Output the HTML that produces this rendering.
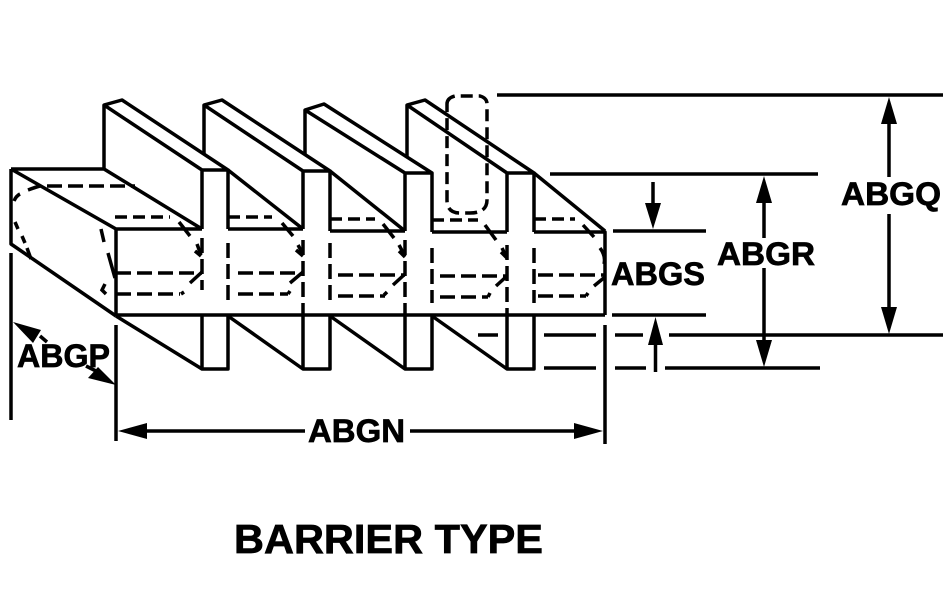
<!DOCTYPE html>
<html><head><meta charset="utf-8"><style>
html,body{margin:0;padding:0;background:#fff;width:950px;height:602px;overflow:hidden}
svg{display:block}
text{font-family:"Liberation Sans",Arial,sans-serif;font-weight:bold;fill:#000;stroke:#000;stroke-width:.7px}
</style></head><body>
<svg width="950" height="602" viewBox="0 0 950 602" xmlns="http://www.w3.org/2000/svg">
<rect width="950" height="602" fill="#fff"/>
<g fill="none" stroke="#000" stroke-width="3.5" stroke-linejoin="round">
<!-- block left end -->
<path d="M11 169H104M11 169V244L116 316M11 169L116 229H202M104 169L202 229M11 253V420"/>
<path d="M116 229V316M116 325V441"/>
<!-- fins -->
<path d="M104 169V105L122 100L228 170M104 105L202 170H228V229M202 170V229"/>
<path d="M204 154V105L222 100L330 171M204 105L303 171H330V231M303 171V229"/>
<path d="M305 155V110L324 104L432 173M305 110L405 173H432V232M405 173V231"/>
<path d="M407 156V105L425 100L534 173M407 105L507 173H534V232M507 173V232"/>
<!-- sloped faces between fins -->
<path d="M228 170L303 229M330 171L405 231M534 173L605 231"/>
<path d="M228 229H303M330 231H405M432 232H507M534 232H605V315"/>
<!-- base -->
<path d="M116 315H605M605 325V444"/>
<path d="M116 316L202 369H228V315M202 315V369"/>
<path d="M228 316L303 369H330V315M303 315V369"/>
<path d="M330 316L405 369H432V315M405 315V369"/>
<path d="M432 316L507 369H534V315M507 315V369"/>
<!-- dimension lines -->
<path d="M497 95H943M550 174H818M613 231H706M612 315H706"/>
<path d="M478 335H498M544 335H596M615 335H643M669 335H943"/>
<path d="M544 368H596M615 368H646M665 368H820"/>
<path d="M889 124V177M889 214V307M764 203V238M764 268V340M653 182V203M655.5 345V372"/>
<path d="M147 431H305M410 431H574"/>
<path d="M40 336L47 342M98 372L86 366"/>
</g>
<!-- arrowheads -->
<g fill="#000">
<polygon points="889,97 881,124 897,124"/>
<polygon points="889,334 881,307 897,307"/>
<polygon points="764,176 756,203 772,203"/>
<polygon points="764,367 756,340 772,340"/>
<polygon points="653,229 645,203 661,203"/>
<polygon points="655.5,317 648,345 663,345"/>
<polygon points="118,431 147,423 147,439"/>
<polygon points="603,431 574,423 574,439"/>
<polygon points="13,322 41,330 33,343"/>
<polygon points="116,385 98,367 88,378"/>
</g>
<!-- hidden dashed lines -->
<g fill="none" stroke="#000" stroke-width="3.5">
<g stroke-dasharray="15 6">
<path d="M202 238V290M228 243V303M303 240V315M330 243V303M405 240V315M432 248V303M507 245V315M534 248V303"/>
<path d="M116 273H202M116 294H180"/>
<path d="M238 273H303M238 294H288"/>
<path d="M338 275H405M338 296H385"/>
<path d="M440 276H507M440 297H488"/>
<path d="M538 275H605M538 296H586"/>
<path d="M47 186H135"/>
</g>
<g stroke-dasharray="12 6">
<path d="M115 217H170"/><path d="M228 217H272"/><path d="M330 219H375"/><path d="M432 220H478"/><path d="M534 219H575"/>
<path d="M447 104Q447 98 455 96H480Q487 98 487 104V200Q487 213 470 213H460Q447 213 447 200Z"/>
</g>
<!-- rounded profile ticks -->
<path d="M28 190Q36 187 40 186M14 201Q16 196 20 194M15 222L18 229M22 236L25 243M27 248L31 259"/>
<path d="M101 229L104 242M108 253L115 278M105 284L102 290L106 294"/>
<path d="M179 222L190 236M197 244L201 255M195 251L201 256"/>
<path d="M282 223L293 236M298 245L303 254M296 250L303 256"/>
<path d="M383 224L394 238M399 245L405 256M399 251L405 257"/>
<path d="M485 225L496 240M502 248L507 258M501 252L507 258"/>
<path d="M583 225L594 237M600 248Q606 256 604 264"/>
<path d="M190 283L202 272M181 294L184 292"/>
<path d="M290 283L303 272M288 294L290 291"/>
<path d="M393 285L405 274M384 295L387 292"/>
<path d="M496 286L507 276M488 297L490 293"/>
<path d="M594 286L605 277M586 296L588 293"/>
</g>
<!-- labels -->
<text x="841" y="205" font-size="32" textLength="100" lengthAdjust="spacingAndGlyphs">ABGQ</text>
<text x="717" y="265" font-size="32" textLength="98" lengthAdjust="spacingAndGlyphs">ABGR</text>
<text x="611" y="285" font-size="32" textLength="94" lengthAdjust="spacingAndGlyphs">ABGS</text>
<text x="308" y="442" font-size="32" textLength="97" lengthAdjust="spacingAndGlyphs">ABGN</text>
<text x="17" y="367" font-size="32" textLength="93" lengthAdjust="spacingAndGlyphs">ABGP</text>
<text x="234" y="553" font-size="41" textLength="309" lengthAdjust="spacingAndGlyphs">BARRIER TYPE</text>
</svg>
</body></html>
